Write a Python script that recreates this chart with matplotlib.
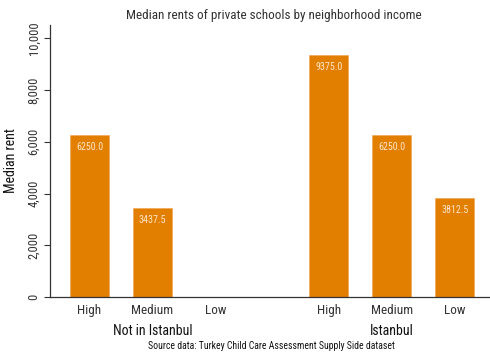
import matplotlib
matplotlib.use("Agg")
import matplotlib.pyplot as plt
from matplotlib.ticker import StrMethodFormatter

# Median rent per neighborhood income group, split by location
groups = ["Not in Istanbul", "Istanbul"]
income_levels = ["High", "Medium", "Low"]
not_istanbul = [6250.0, 3437.5, None]
istanbul = [9375.0, 6250.0, 3812.5]

plt.rcParams["font.family"] = ["Roboto Condensed", "DejaVu Sans"]

bar_color = "#e37f00"
text_dark = "#333333"
group_gap = 0.8
PX = 0.72  # points per pixel at dpi 100

fig = plt.figure(figsize=(4.9, 3.53), dpi=100)
ax = fig.add_axes([50 / 490, 56 / 353, 440 / 490, 272 / 353])

positions = []
values = []
labels = []
for g, series in enumerate([not_istanbul, istanbul]):
    for i, v in enumerate(series):
        positions.append(g * (len(income_levels) + group_gap) + i)
        values.append(v)
        labels.append(income_levels[i])

for x, v in zip(positions, values):
    if v is None:
        continue
    ax.bar(x, v, width=0.62, color=bar_color, edgecolor="#f0a050", linewidth=0.4)
    ax.annotate(f"{v:.1f}", (x, v), xytext=(0, -12 * PX), textcoords="offset points",
                ha="center", va="center", fontsize=7.2, color="#fde6cc")

ax.set_xlim(-0.627, 6.357)
ax.set_ylim(0, 10520)
ax.set_yticks([0, 2000, 4000, 6000, 8000, 10000])
ax.yaxis.set_major_formatter(StrMethodFormatter("{x:,.0f}"))
for lbl in ax.get_yticklabels():
    lbl.set_rotation(90)
    lbl.set_va("center")
ax.tick_params(axis="y", labelsize=9, colors=text_dark, length=4, width=0.8, pad=3)
ax.set_xticks(positions)
ax.set_xticklabels(labels)
ax.tick_params(axis="x", length=0, labelsize=9.5, colors=text_dark, pad=5)

for side in ["top", "right"]:
    ax.spines[side].set_visible(False)
for side in ["left", "bottom"]:
    ax.spines[side].set_color(text_dark)
    ax.spines[side].set_linewidth(0.9)

ax.set_ylabel("Median rent", fontsize=10, color="#111111", labelpad=7)

# Group names under each cluster of bars
for g, name in enumerate(groups):
    center = g * (len(income_levels) + group_gap) + 1
    ax.annotate(name, (center, 0), xytext=(0, -34 * PX), textcoords="offset points",
                xycoords=("data", "axes fraction"), ha="center", va="center",
                fontsize=10, color="#111111")

fig.text(274 / 490, 1 - 15 / 353, "Median rents of private schools by neighborhood income",
         ha="center", va="center", fontsize=9.5, color=text_dark)
fig.text(271 / 490, 1 - 346 / 353, "Source data: Turkey Child Care Assessment Supply Side dataset",
         ha="center", va="center", fontsize=7.0, color="#111111")

fig.savefig("out.png", dpi=100)
